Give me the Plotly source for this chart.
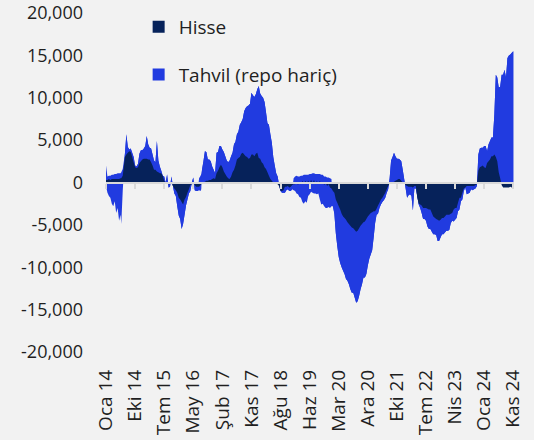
import plotly.graph_objects as go

# week index (weekly data, Jan 2014 .. Nov 2024)
weeks = [0, 2, 4, 6, 8, 10, 12, 14, 16, 18, 20, 21, 23, 26, 28, 30, 32, 34, 36, 38,
         40, 42, 44, 46, 48, 50, 52, 54, 56, 58, 60, 62, 64, 66, 68, 70, 72, 74, 76, 78,
         80, 82, 84, 86, 88, 90, 92, 94, 96, 98, 100, 102, 104, 106, 108, 110, 112, 114, 116, 118,
         120, 122, 124, 126, 128, 130, 131, 132, 134, 136, 138, 140, 142, 144, 146, 148, 150, 152, 154, 156,
         158, 160, 162, 164, 166, 168, 170, 172, 174, 176, 178, 180, 182, 184, 186, 188, 190, 192, 194, 196,
         198, 200, 202, 204, 206, 208, 210, 212, 214, 216, 218, 220, 222, 224, 226, 228, 230, 232, 234, 236,
         238, 240, 242, 244, 246, 248, 250, 252, 254, 256, 258, 260, 262, 264, 266, 268, 270, 272, 274, 276,
         278, 280, 282, 284, 286, 288, 290, 292, 294, 296, 298, 300, 302, 304, 306, 308, 310, 312, 314, 316,
         318, 320, 322, 324, 326, 328, 330, 332, 334, 336, 338, 340, 342, 344, 346, 348, 350, 352, 354, 356,
         358, 360, 362, 364, 366, 368, 370, 372, 374, 376, 378, 380, 382, 384, 386, 388, 390, 392, 394, 396,
         398, 400, 402, 404, 406, 408, 410, 412, 414, 416, 418, 420, 422, 424, 426, 428, 430, 432, 434, 436,
         438, 440, 442, 444, 446, 448, 450, 452, 454, 456, 458, 460, 462, 464, 466, 468, 470, 472, 474, 476,
         478, 480, 482, 484, 486, 488, 490, 492, 494, 496, 498, 500, 502, 504, 506, 508, 510, 512, 514, 516,
         518, 520, 522, 524, 526, 528, 530, 532, 534, 536, 538, 540, 542, 544, 546, 548, 550, 552, 554, 556,
         558, 560]

# Tahvil (repo hariç): high / low reading of each period (they differ where the series swings both ways)
tahvil_high = [2000, 700, 800, 800, 900, 900, 1000, 1000, 1100, 1100, 1100, 1200, 1600, 3400, 5700, 4200, 3900, 4000, 3500, 3000,
               2000, 1900, 2200, 3400, 3800, 3800, 4000, 4300, 5500, 4500, 4100, 4000, 3300, 2600, 2400, 4900, 2600, 1900, 1400, 800,
               700, 0, 950, -600, -500, 700, -400, -1300, -1600, -2800, -3900, -4300, -5500, -4900, -3800, -2700, -2000, -1300, -1000, 0,
               600, -900, -1000, -1000, 500, 800, 1000, 1500, 2500, 3700, 3600, 2700, 2700, 2500, 1900, 1500, 1100, 3500, 3600, 4300,
               4300, 3900, 3600, 3100, 2600, 2400, 2600, 3100, 3500, 4500, 4800, 5700, 6000, 6800, 7100, 7500, 8400, 8800, 9000, 9100,
               9300, 10600, 10300, 10100, 10400, 11000, 11400, 10500, 10200, 10000, 9500, 8300, 7000, 6800, 5700, 4700, 3000, 2000, 1100, 700,
               -300, -1000, -1200, -1200, -1200, -900, -800, -1000, -1000, -800, 500, 700, 800, 700, 700, 800, 800, 900, 900, 900,
               900, 1000, 1000, 1100, 1100, 1000, 1000, 1000, 1000, 900, 900, 700, 700, 600, 600, 500, 400, -2800, -3700, -6000,
               -7500, -8800, -9500, -10000, -10400, -10800, -11400, -11600, -12000, -12600, -13000, -13000, -13600, -14200, -14000, -13400, -12600, -12000, -11200, -11200,
               -10800, -9800, -9000, -8500, -8000, -6500, -4800, -3800, -3700, -3000, -2600, -2300, -2100, -1800, -1200, -800, 500, 2600, 3000, 3500,
               3100, 2800, 2800, 2700, 2500, 1500, 400, -700, -1800, -1500, -1400, -1600, -3300, -700, -700, -1600, -2600, -3000, -3600, -4300,
               -4300, -4500, -5200, -5500, -5500, -5800, -6100, -6100, -6200, -6900, -6900, -6500, -6100, -6100, -5900, -5700, -5700, -5600, -4800, -4500,
               -4600, -4400, -4200, -3400, -3200, -2200, -2000, -1000, -600, -1400, -1300, -1200, -800, -900, -800, -700, -400, 3300, 4000, 4100,
               4100, 4300, 4300, 3700, 4500, 4900, 5300, 5300, 8000, 12700, 12400, 11200, 11300, 12700, 12700, 13300, 12400, 14700, 15000, 15100,
               15300, 15500]

tahvil_low = [-400, -1200, -1600, -1800, -2500, -2800, -2200, -3600, -3000, -4500, -3800, -4900, -1000, 3400, 5700, 4200, 3900, 4000, 3500, 3000,
              2000, 1900, 2200, 3400, 3800, 3800, 4000, 4300, 5500, 4500, 4100, 4000, 3300, 2600, 2400, 4900, 2600, 1900, 1400, 800,
              700, 0, 950, -600, -500, 700, -400, -1300, -1600, -2800, -3900, -4300, -5500, -4900, -3800, -2700, -2000, -1300, -1000, 0,
              600, -900, -1000, -1000, -900, -1000, -800, 1500, 2500, 3700, 3600, 2700, 2700, 2500, 1900, 1500, 1100, 3500, 3600, 4300,
              4300, 3900, 3600, 3100, 2600, 2400, 2600, 3100, 3500, 4500, 4800, 5700, 6000, 6800, 7100, 7500, 8400, 8800, 9000, 9100,
              9300, 10600, 10300, 10100, 10400, 11000, 11400, 10500, 10200, 10000, 9500, 8300, 7000, 6800, 5700, 4700, 3000, 2000, 1100, 700,
              -300, -1000, -1200, -1200, -1200, -900, -800, -1000, -1000, -800, -900, -1000, -1300, -1400, -1700, -1800, -2300, -2500, -2200, -2400,
              -1600, -1400, -1100, -1200, -1300, -1300, -1400, -1300, -2000, -2600, -2500, -2800, -3000, -3000, -2900, -3000, -2800, -2800, -3700, -6000,
              -7500, -8800, -9500, -10000, -10400, -10800, -11400, -11600, -12000, -12600, -13000, -13000, -13600, -14200, -14000, -13400, -12600, -12000, -11200, -11200,
              -10800, -9800, -9000, -8500, -8000, -6500, -4800, -3800, -3700, -3000, -2600, -2300, -2100, -1800, -1200, -800, 500, 2600, 3000, 3500,
              3100, 2800, 2800, 2700, 2500, 1500, 400, -700, -1800, -1500, -1400, -1600, -3300, -700, -700, -1600, -2600, -3000, -3600, -4300,
              -4300, -4500, -5200, -5500, -5500, -5800, -6100, -6100, -6200, -6900, -6900, -6500, -6100, -6100, -5900, -5700, -5700, -5600, -4800, -4500,
              -4600, -4400, -4200, -3400, -3200, -2200, -2000, -1000, -600, -1400, -1300, -1200, -800, -900, -800, -700, -400, 3300, 4000, 4100,
              4100, 4300, 4300, 3700, 4500, 4900, 5300, 5300, 8000, 12700, 12400, 11200, 11300, 12700, 12700, 13300, 12400, 14700, 15000, 15100,
              15300, 15500]

hisse = [300, 300, 400, 300, 400, 400, 400, 400, 400, 400, 500, 500, 800, 3000, 3300, 3500, 3700, 3600, 3000, 2400,
         1800, 1700, 1800, 2300, 2500, 2700, 2800, 2800, 2800, 2700, 2700, 2400, 2000, 1500, 1500, 1300, 1200, 1100, 1100, 800,
         200, 0, 0, -200, -200, 0, -400, -700, -900, -1200, -1800, -2000, -2300, -2600, -2000, -1700, -1200, -800, -300, -200,
         0, -300, -500, -500, -500, -300, -200, 0, 0, 100, 200, 200, 300, 300, 400, 500, 400, 1100, 1400, 1800,
         2100, 1800, 1300, 1000, 700, 500, 400, 700, 1200, 1500, 2000, 2700, 2900, 3000, 3400, 3500, 3300, 3100, 3000, 2800,
         2900, 3300, 3300, 3100, 3400, 3500, 2900, 2800, 2400, 2200, 1800, 1600, 1200, 800, 400, 200, 0, -100, -100, -200,
         -400, -1000, -1000, -900, -500, -500, -400, -600, -500, -300, -200, -200, 100, -300, 100, -200, 200, -200, 200, -100,
         200, -100, 300, -100, 300, -200, 200, -200, 200, -200, 100, -300, 0, -400, -200, -600, -700, -1000, -1200, -2000,
         -2400, -2800, -3200, -3700, -4000, -4200, -4400, -4700, -4900, -5100, -5300, -5400, -5600, -5800, -5700, -5400, -5100, -4900, -4700, -4600,
         -4300, -4000, -3800, -3600, -3500, -3400, -3400, -3100, -2700, -2400, -2000, -1800, -1500, -1200, -800, -400, -100, 0, 0, 100,
         200, 300, 400, 400, 200, 0, -100, -300, -400, -500, -500, -500, -600, -400, -400, -1800, -2500, -2600, -2700, -3000,
         -3000, -3000, -3100, -3200, -3200, -3600, -4000, -4150, -4300, -4400, -4500, -4400, -4200, -4200, -4000, -3800, -3800, -3800, -3700, -3600,
         -3200, -3000, -3000, -2400, -1800, -1800, -1200, -700, -600, -400, -400, -400, -400, -400, -400, -300, -200, 1400, 1800, 1900,
         2000, 1800, 1700, 2300, 2500, 2700, 3100, 3100, 3300, 3000, 2500, 1200, 500, -300, -600, -600, -600, -600, -600, -500,
         -600, -500]

tick_weeks = [0, 40, 80, 120, 160, 200, 240, 280, 320, 360, 400, 440, 480, 520, 560]
tick_labels = ["Oca 14", "Eki 14", "Tem 15", "May 16", "Şub 17", "Kas 17", "Ağu 18", "Haz 19",
               "Mar 20", "Ara 20", "Eki 21", "Tem 22", "Nis 23", "Oca 24", "Kas 24"]
y_ticks = [20000, 15000, 10000, 5000, 0, -5000, -10000, -15000, -20000]
y_labels = ["20,000", "15,000", "10,000", "5,000", "0", "-5,000", "-10,000", "-15,000", "-20,000"]

NAVY = "#06225a"
BLUE = "#213be0"
BG = "#f2f2f2"
AXIS = "#d9d9d9"
TXT = "#1f1f1f"
FONT = "Open Sans"

fig = go.Figure()
for series in (tahvil_high, tahvil_low):
    fig.add_trace(go.Scatter(x=weeks, y=series, mode="none", fill="tozeroy",
                             fillcolor=BLUE, showlegend=False, hoverinfo="skip"))
fig.add_trace(go.Scatter(x=weeks, y=hisse, mode="none", fill="tozeroy",
                         fillcolor=NAVY, showlegend=False, hoverinfo="skip"))
# legend entries (square swatches)
fig.add_trace(go.Scatter(x=[None], y=[None], mode="markers", name="Hisse",
                         marker=dict(symbol="square", size=12, color=NAVY),
                         legendgroup="h"))
fig.add_trace(go.Scatter(x=[None], y=[None], mode="markers", name="Tahvil (repo hariç)",
                         marker=dict(symbol="square", size=12, color=BLUE),
                         legendgroup="t"))
# dummy trace for zero-line axis
fig.add_trace(go.Scatter(x=[None], y=[None], xaxis="x2", showlegend=False, hoverinfo="skip"))

fig.update_layout(
    width=534, height=440,
    paper_bgcolor=BG, plot_bgcolor=BG,
    margin=dict(l=106, r=20, t=13, b=88, autoexpand=False),
    font=dict(family=FONT, size=18, color=TXT),
    showlegend=True,
    legend=dict(x=0.08, y=1.015, xanchor="left", yanchor="top", bgcolor="rgba(0,0,0,0)",
                traceorder="grouped", tracegroupgap=20, itemwidth=30,
                font=dict(family=FONT, size=19, color=TXT)),
    xaxis=dict(range=[0, 561], tickmode="array", tickvals=tick_weeks, ticktext=tick_labels,
               tickangle=-90, showgrid=False, zeroline=False, showline=False, automargin=False,
               ticks="", ticklabelstandoff=13, tickfont=dict(size=19)),
    xaxis2=dict(range=[0, 561], overlaying="x", anchor="free", position=0.5,
                tickmode="array", tickvals=tick_weeks, showticklabels=False,
                ticks="outside", ticklen=5, tickwidth=2, tickcolor=AXIS, automargin=False,
                showline=True, linecolor=AXIS, linewidth=2, showgrid=False,
                zeroline=False, layer="above traces"),
    yaxis=dict(range=[-20000, 20000], tickmode="array", tickvals=y_ticks, ticktext=y_labels,
               showgrid=False, zeroline=False, showline=False, automargin=False,
               ticks="", ticklabelstandoff=22, tickfont=dict(size=18)),
)

fig.write_html("out.html", config={"displayModeBar": False},
               post_script="document.body.style.margin='0';document.body.style.background='#f2f2f2';")
